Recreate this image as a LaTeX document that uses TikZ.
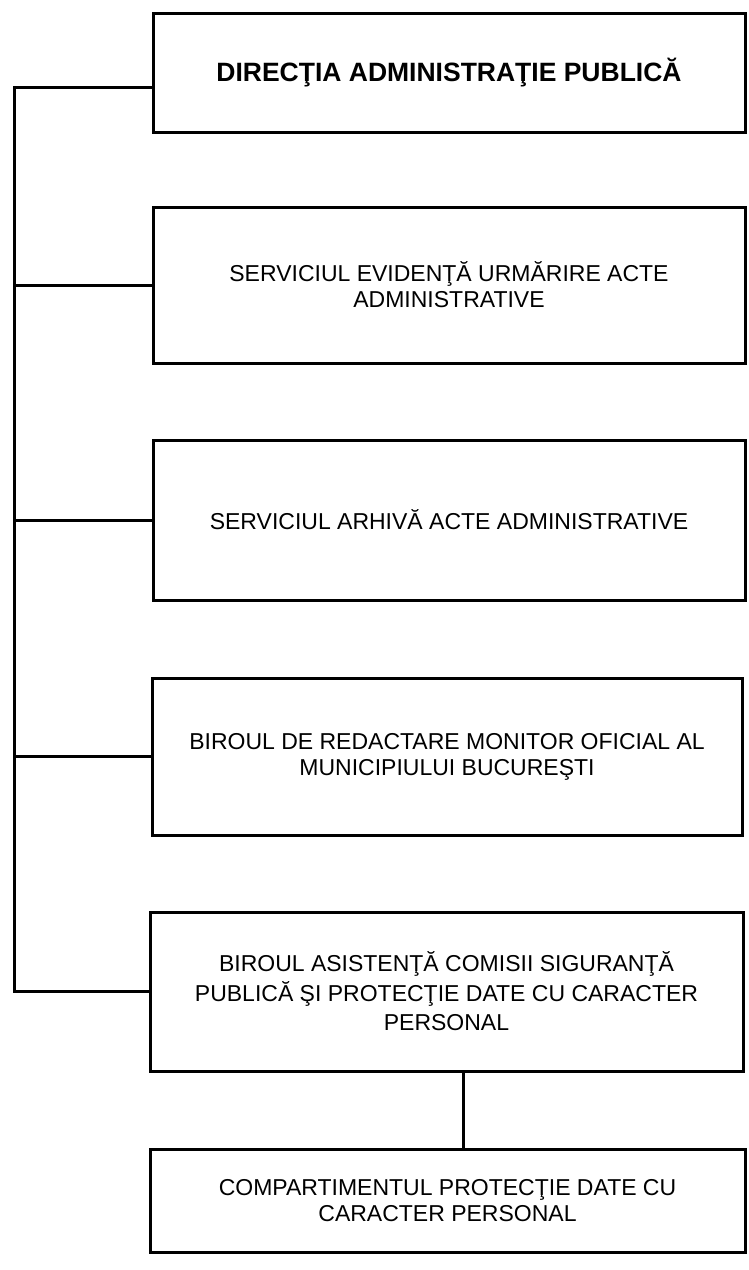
\documentclass[tikz,border=0pt]{standalone}
\usepackage{fontspec}
\setmainfont{Liberation Sans}
\begin{document}
\begin{tikzpicture}[x=1pt,y=-1pt,
  box/.style={draw=black,line width=3pt,rectangle,align=center,inner sep=0pt,
    font=\fontsize{23}{26}\selectfont},
  conn/.style={draw=black,line width=3pt,line join=miter}]
\useasboundingbox (0,0) rectangle (749,1270);
\node[box,minimum width=592pt,minimum height=119pt,font=\bfseries\fontsize{26.5}{30}\selectfont] (b1) at (449,72.5) {\raisebox{4pt}{DIRECŢIA ADMINISTRAŢIE PUBLICĂ}};
\node[box,minimum width=592pt,minimum height=156pt] (b2) at (449,285) {SERVICIUL EVIDENŢĂ URMĂRIRE ACTE\\ADMINISTRATIVE};
\node[box,minimum width=592pt,minimum height=160pt] (b3) at (449,520) {SERVICIUL ARHIVĂ ACTE ADMINISTRATIVE};
\node[box,minimum width=590pt,minimum height=157pt] (b4) at (447,756.5) {BIROUL DE REDACTARE MONITOR OFICIAL AL\\MUNICIPIULUI BUCUREŞTI};
\node[box,minimum width=593pt,minimum height=159pt,font=\fontsize{23}{29.5}\selectfont] (b5) at (446.5,991.5) {BIROUL ASISTENŢĂ COMISII SIGURANŢĂ\\PUBLICĂ ŞI PROTECŢIE DATE CU CARACTER\\PERSONAL};
\node[box,minimum width=595pt,minimum height=103pt] (b6) at (447.5,1200.5) {COMPARTIMENTUL PROTECŢIE DATE CU\\CARACTER PERSONAL};
\coordinate (Ltop) at (14,87);
\coordinate (Lbot) at (14,991.5);
\coordinate (vx) at (463,0);
\draw[conn] (b1.west |- Ltop) -- (Ltop) -- (Lbot) -- (b5.west);
\draw[conn] (b2.west) -- (b2.west -| Ltop);
\draw[conn] (b3.west) -- (b3.west -| Ltop);
\draw[conn] (b4.west) -- (b4.west -| Ltop);
\draw[conn] (b5.south -| vx) -- (b6.north -| vx);
\end{tikzpicture}
\end{document}
